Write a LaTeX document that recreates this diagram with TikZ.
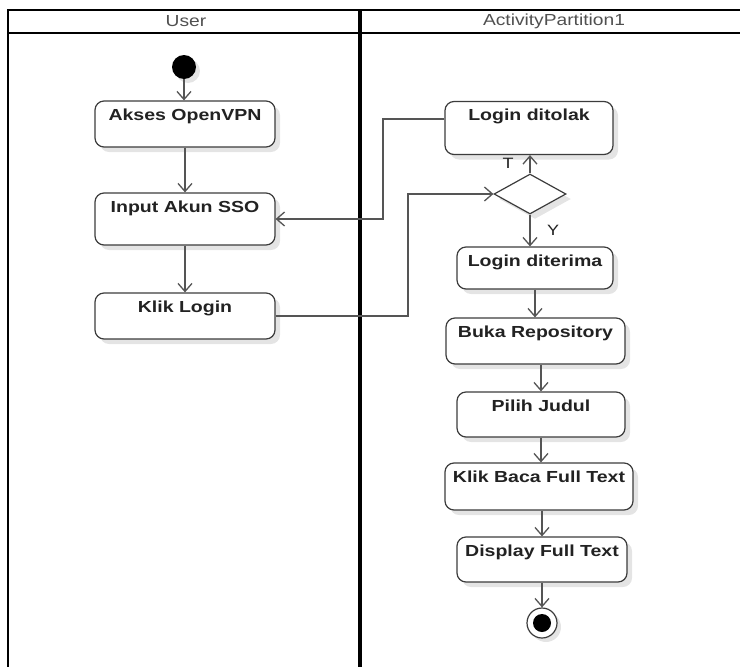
\documentclass[tikz,border=0pt]{standalone}
\usepackage{fontspec}
\setmainfont{Liberation Sans}
\newfontfamily\boxfont[FakeStretch=1.22]{Liberation Sans}
\newfontfamily\headfont[FakeStretch=1.2]{Liberation Sans}
\usetikzlibrary{arrows.meta,shapes.geometric,shadows}
\definecolor{boxc}{HTML}{3C3C3C}
\definecolor{linec}{HTML}{555555}
\definecolor{txtc}{HTML}{222222}
\definecolor{shadowc}{HTML}{E4E4E4}
\definecolor{headc}{HTML}{505050}
\begin{document}
\begin{tikzpicture}[x=1pt,y=-1pt,
  act/.style={draw=boxc, line width=1.2pt, rounded corners=9pt, fill=white,
    general shadow={fill=shadowc, shadow xshift=5pt, shadow yshift=-5pt},
    inner sep=0pt},
  lbl/.style={anchor=north, inner sep=0pt, yshift=-8pt, text=txtc,
    font=\boxfont\bfseries\fontsize{16}{18}\selectfont},
  flow/.style={draw=linec, line width=1.3pt, -{Straight Barb[length=8pt,width=14pt]}},
  frame/.style={draw=black, line width=2pt},
  divider/.style={draw=black, line width=3.5pt},
  head/.style={inner sep=0pt, text=headc, font=\headfont\fontsize{16}{18}\selectfont},
  guard/.style={inner sep=0pt, text=txtc, font=\headfont\fontsize{15}{17}\selectfont},
  dec/.style={diamond, draw=boxc, line width=1.2pt, fill=white, inner sep=0pt,
    minimum width=72pt, minimum height=40pt,
    general shadow={fill=shadowc, shadow xshift=5pt, shadow yshift=-5pt}}
]
\useasboundingbox (0,0) rectangle (740,667);

% swimlane frame
\draw[frame] (8,10) -- (750,10);
\draw[frame] (8,33) -- (750,33);
\draw[frame] (8,9) -- (8,680);
\draw[divider] (360,9) -- (360,680);
\node[head] (h1) at (186,21.5) {User};
\node[head] (h2) at (554,21.5) {ActivityPartition1};

% User lane
\node[circle, fill=black, minimum size=24pt, inner sep=0pt,
  general shadow={fill=shadowc, shadow xshift=4pt, shadow yshift=-4pt}] (start) at (184,67) {};
\node[act, minimum width=180pt, minimum height=46pt, label={[lbl]north:Akses OpenVPN}] (a1) at (185,124) {};
\node[act, minimum width=180pt, minimum height=52pt, label={[lbl]north:Input Akun SSO}] (a2) at (185,219) {};
\node[act, minimum width=180pt, minimum height=46pt, label={[lbl]north:Klik Login}] (a3) at (185,316) {};

% Partition lane
\node[act, minimum width=168pt, minimum height=53pt, label={[lbl]north:Login ditolak}] (b1) at (529,128) {};
\node[dec] (d) at (530,194) {};
\node[act, minimum width=156pt, minimum height=42pt, label={[lbl]north:Login diterima}] (b2) at (535,268) {};
\node[act, minimum width=179pt, minimum height=46pt, label={[lbl]north:Buka Repository}] (b3) at (535.5,341) {};
\node[act, minimum width=168pt, minimum height=45pt, label={[lbl]north:Pilih Judul}] (b4) at (541,414.5) {};
\node[act, minimum width=188pt, minimum height=47pt, label={[lbl]north:Klik Baca Full Text}] (b5) at (539,486.5) {};
\node[act, minimum width=170pt, minimum height=45pt, label={[lbl]north:Display Full Text}] (b6) at (542,559.5) {};
\node[circle, draw=boxc, line width=1.2pt, fill=white, minimum size=30pt, inner sep=0pt,
  general shadow={fill=shadowc, shadow xshift=4pt, shadow yshift=-4pt}] (end) at (542,623) {};
\node[circle, fill=black, minimum size=18pt, inner sep=0pt] (endin) at (end) {};

% bend points
\coordinate (j1) at (383,219);
\coordinate (j2) at (408,194);

% connectors
\draw[flow] (start) -- (a1.north -| start);
\draw[flow] (a1.south) -- (a2.north);
\draw[flow] (a2.south) -- (a3.north);
\draw[flow] ([yshift=9pt]b1.west) -| (j1) -- (a2.east);
\draw[flow] (a3.east) -| (j2) -- (d.west);
\draw[flow] (d.north) -- (d.north |- b1.south);
\draw[flow] (d.south) -- (d.south |- b2.north);
\draw[flow] (b2.south) -- (b2.south |- b3.north);
\draw[flow] (b3.south -| b4.north) -- (b4.north);
\draw[flow] (b4.south) -- (b4.south |- b5.north);
\draw[flow] (b6.north |- b5.south) -- (b6.north);
\draw[flow] (b6.south) -- (end.north);

% guards
\node[guard] (gT) at (508,163) {T};
\node[guard] (gY) at (553,230) {Y};
\end{tikzpicture}
\end{document}
